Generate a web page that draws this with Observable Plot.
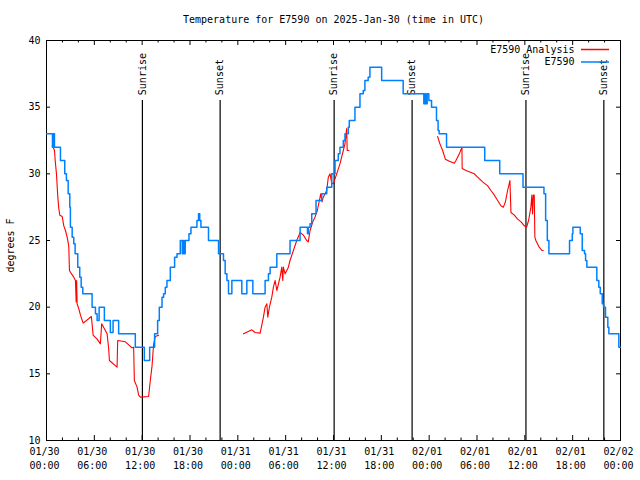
<!DOCTYPE html>
<html>
<head>
<meta charset="utf-8">
<script src="https://cdn.jsdelivr.net/npm/d3@7"></script>
<script src="https://cdn.jsdelivr.net/npm/@observablehq/plot@0.6"></script>
<style>
  html, body { margin: 0; padding: 0; background: #fff; }
</style>
</head>
<body>
<div id="chart"></div>
<script>
// ---- Data (hours since 2025-01-30 00:00 UTC, degrees F) ----
const titleText = "Temperature for E7590 on 2025-Jan-30 (time in UTC)";
const yLabel = "degrees F";
const seriesNames = ["E7590 Analysis", "E7590"];
const seriesColors = ["#ff0000", "#0080ff"];

// Observed E7590 (stepped)
const observed = [
  [0,33],[0.75,32],[0.88,33],[1.0,32],[1.75,31],[2.29,30],[2.5,29.5],[2.72,28.5],[2.92,27.5],
  [3.0,26],[3.22,25.25],[3.42,24.75],[3.59,24],[3.92,23],[4.17,22.25],[4.35,21.5],[4.55,21],
  [5.72,20],[6.14,19.5],[6.35,19],[6.6,20],[7.26,19],[8.01,18.1],[8.35,19],[9.05,18],
  [11.14,17],[12.27,16],[12.94,17],[13.56,18],[13.94,19],[14.15,20],[14.49,20.75],[14.69,21],
  [14.9,21.5],[15.11,22],[15.53,23],[16.07,23.75],[16.37,24],[16.78,25],[17.03,24],[17.16,25],
  [17.28,24],[17.4,25],[17.87,25.5],[18.12,26],[18.87,26.5],[19.07,27],[19.22,26.5],[19.37,26],
  [20.32,25],[21.58,24],[22.2,23.5],[22.41,22.5],[22.63,22],[22.83,21],[23.25,22],[24.5,21],
  [25.13,22],[25.88,21],[27.42,22],[27.84,22.5],[28.05,23],[28.89,24],[30.55,25],[31.81,26],
  [32.74,25.5],[32.84,26],[33.06,26.25],[33.27,27],[33.81,28],[34.52,28.5],[35.15,29],[35.78,30],
  [36.19,31],[36.6,31.5],[36.81,32],[37.23,32.5],[37.44,33],[37.85,33.5],[37.98,34],[38.69,35],
  [39.32,36],[39.73,36.25],[39.94,37],[40.35,37.25],[40.57,38],[42.04,37],[44.74,36],
  [47.33,35.25],[47.46,36],[47.58,35.25],[47.75,36],[47.96,35.5],[48.3,35],[48.92,34],
  [49.12,33.25],[49.25,33],[50.18,32],[54.97,31],[56.85,30],[59.77,29],[62.4,28.5],[62.61,26.5],
  [62.82,25],[63.02,24],[65.61,25],[65.95,25.5],[66.03,26],[66.95,25.5],[67.2,24.25],[67.49,24],
  [67.62,23.5],[67.78,23],[69.03,22],[69.28,21.5],[69.46,21],[69.71,20.25],[69.87,20],
  [70.12,19.25],[70.41,18.5],[70.54,18],[71.79,17],[72,17]
];

// Analysis (three separate segments)
const analysis1 = [
  [0.71,32.1],[0.84,32],[1.0,31.75],[1.09,31],[1.25,30],[1.42,28.25],[1.54,27.4],[1.67,26.9],
  [1.97,26.8],[2.17,26.1],[2.38,25.75],[2.59,25.25],[2.79,24.6],[2.88,22.75],[3.13,22.5],
  [3.42,22.25],[3.63,22],[3.72,20.4],[3.78,22],[3.84,20.25],[4.04,19.9],[4.26,19.4],[4.6,18.8],
  [5.63,19.3],[5.85,17.9],[6.35,17.6],[6.76,17.25],[6.92,18.75],[7.6,18],[7.8,16.9],[7.89,16],
  [8.85,15.5],[8.93,17.5],[9.89,17.4],[10.73,16.95],[10.93,17],[11.02,14.5],[11.36,14],
  [11.56,13.4],[11.77,13.25],[12.81,13.3],[13.02,14.5],[13.24,15.6],[13.44,17.25],[13.65,17.8],
  [14.06,17.9]
];
const analysis2 = [
  [24.71,18],[25.76,18.3],[26.17,18.1],[26.8,18.05],[27.21,19.25],[27.42,20],[27.64,20.25],
  [27.76,19.25],[27.96,20],[28.26,20.75],[28.46,21.5],[28.68,22],[28.89,21.25],[29.3,22.25],
  [29.51,23],[29.64,22],[29.71,23],[29.93,22.5],[30.34,23],[30.55,23.5],[30.97,24.25],[31.39,25],
  [31.81,25.6],[32.22,25.4],[32.64,25],[32.84,24.9],[33.06,25.75],[33.4,26.4],[33.68,26.75],
  [33.97,27.25],[34.4,28.5],[34.56,27.9],[34.72,28.25],[35.15,28.75],[35.35,29.75],[35.56,30],
  [35.78,29.3],[35.98,29.25],[36.4,30],[36.81,30.75],[37.02,31.25],[37.23,31.75],[37.44,32.25],
  [37.65,33.4],[37.72,31.75],[37.94,31.75]
];
const analysis3 = [
  [49.06,32.8],[49.35,32.25],[49.69,31.75],[50.03,31.1],[50.53,30.95],[51.16,30.8],[51.36,31],
  [51.79,31.5],[52.11,32],[52.14,30.4],[52.62,30.25],[53.25,30.1],[53.67,30],[54.08,29.75],
  [54.71,29.4],[55.34,29.1],[55.75,28.75],[56.18,28.4],[56.59,28],[57.0,27.6],[57.31,27.5],
  [57.56,27.9],[57.84,28.75],[58.13,29.5],[58.26,27.1],[58.68,26.9],[59.1,26.6],[59.52,26.4],
  [59.94,26.1],[60.22,26],[60.47,26.5],[60.76,27.5],[60.88,28.4],[60.97,27],[61.06,28.4],
  [61.18,28.4],[61.26,25.25],[61.38,25],[61.81,24.5],[62.14,24.25],[62.31,24.25]
];

// Sunrise / sunset markers (hours)
const sunHours = [12.03, 21.78, 36.08, 45.86, 60.14, 69.91];
const sunLabels = ["Sunrise", "Sunset", "Sunrise", "Sunset", "Sunrise", "Sunset"];
const sunLineTop = 35.5;   // degrees F where marker lines end
const sunLabelAt = 35.9;   // degrees F where labels start

// Axis ticks
const xMajorHours = d3.range(0, 73, 6);
const xMinorHours = d3.range(0, 73, 2).filter(h => h % 6 !== 0);
const yTicks = [10, 15, 20, 25, 30, 35, 40];

// ---- Build ----
const t0 = Date.UTC(2025, 0, 30);
const T = h => new Date(t0 + h * 3600e3);
const toRows = (arr, seg) => arr.map(([h, v]) => ({t: T(h), v, seg}));
const obsRows = toRows(observed, "obs");
const anaRows = [...toRows(analysis1, 1), ...toRows(analysis2, 2), ...toRows(analysis3, 3)];
const sunRows = sunHours.map((h, i) => ({t: T(h), label: sunLabels[i]}));
const fmtD = d3.utcFormat("%m/%d"), fmtT = d3.utcFormat("%H:%M");

const font = "DejaVu Sans Mono";
const plot = Plot.plot({
  width: 640,
  height: 480,
  marginLeft: 46,
  marginRight: 20,
  marginTop: 40,
  marginBottom: 40,
  style: {fontFamily: font, fontSize: "10px", background: "#fff", color: "#000"},
  x: {type: "utc", domain: [T(0), T(72)], axis: null},
  y: {domain: [10, 40], axis: null},
  marks: [
    Plot.frame({stroke: "#000", strokeWidth: 1}),
    // x ticks (inward, bottom and top)
    Plot.tickX(xMajorHours, {x: T, insetTop: 395, stroke: "#000"}),
    Plot.tickX(xMajorHours, {x: T, insetBottom: 395, stroke: "#000"}),
    Plot.tickX(xMinorHours, {x: T, insetTop: 397.5, stroke: "#000"}),
    Plot.tickX(xMinorHours, {x: T, insetBottom: 397.5, stroke: "#000"}),
    // y ticks (inward, left and right)
    Plot.tickY(yTicks, {y: d => d, insetRight: 570, stroke: "#000"}),
    Plot.tickY(yTicks, {y: d => d, insetLeft: 570, stroke: "#000"}),
    // tick labels
    Plot.text(xMajorHours, {x: T, frameAnchor: "bottom", dy: 4.5, dx: -2, lineAnchor: "top",
      lineHeight: 1.4, text: h => fmtD(T(h)) + "\n" + fmtT(T(h)), fill: "#000"}),
    Plot.text(yTicks, {y: d => d, frameAnchor: "left", dx: -6, textAnchor: "end",
      lineAnchor: "middle", text: d => String(d), fill: "#000"}),
    Plot.text([yLabel], {frameAnchor: "left", dx: -36, dy: 5, rotate: -90,
      textAnchor: "middle", lineAnchor: "middle", fill: "#000"}),
    Plot.text([titleText], {frameAnchor: "top", dy: -21, lineAnchor: "middle", fill: "#000"}),
    // sunrise / sunset
    Plot.ruleX(sunRows, {x: "t", y1: 10, y2: sunLineTop, stroke: "#000", strokeWidth: 1.2}),
    Plot.text(sunRows, {x: "t", y: sunLabelAt, text: "label", rotate: -90, textAnchor: "start",
      lineAnchor: "middle", fill: "#000"}),
    // data
    Plot.line(anaRows, {x: "t", y: "v", z: "seg", stroke: seriesColors[0], strokeWidth: 1.1}),
    Plot.line(obsRows, {x: "t", y: "v", curve: "step-after", stroke: seriesColors[1], strokeWidth: 1.5}),
    // legend text
    Plot.text([seriesNames[0]], {frameAnchor: "top-right", dx: -46, dy: 9,
      textAnchor: "end", lineAnchor: "middle", fill: "#000"}),
    Plot.text([seriesNames[1]], {frameAnchor: "top-right", dx: -46, dy: 21.5,
      textAnchor: "end", lineAnchor: "middle", fill: "#000"})
  ]
});

// legend sample lines
const svg = d3.select(plot);
seriesNames.forEach((name, i) => {
  svg.append("line")
    .attr("x1", 581).attr("x2", 609)
    .attr("y1", 49.5 + 12.5 * i).attr("y2", 49.5 + 12.5 * i)
    .attr("stroke", seriesColors[i]).attr("stroke-width", 1.5);
});
document.getElementById("chart").appendChild(plot);
</script>
</body>
</html>
